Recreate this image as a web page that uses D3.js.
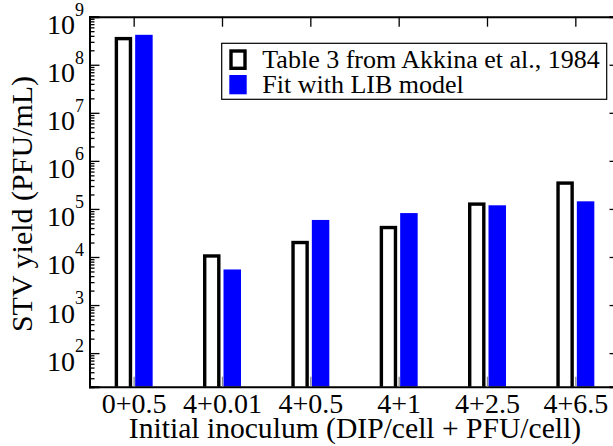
<!DOCTYPE html>
<html>
<head>
<meta charset="utf-8">
<script src="https://cdn.jsdelivr.net/npm/d3@7"></script>
<style>
  body { margin: 0; background: #fff; }
  svg { display: block; }
  svg text { font-family: "Liberation Serif", "Times New Roman", Times, serif; }
</style>
</head>
<body>
<svg id="chart"></svg>
<script>
// data
const categories = ["0+0.5", "4+0.01", "4+0.5", "4+1", "4+2.5", "4+6.5"];
const tableValues = [3.5e8, 1.05e4, 2.0e4, 4.1e4, 1.26e5, 3.45e5];   // Table 3 from Akkina et al., 1984
const fitValues = [4.2e8, 5.5e3, 5.9e4, 8.2e4, 1.19e5, 1.44e5];      // Fit with LIB model
const decadeTicks = [1e2, 1e3, 1e4, 1e5, 1e6, 1e7, 1e8, 1e9];
const seriesNames = ["Table 3 from Akkina et al., 1984", "Fit with LIB model"];

const config = {
  width: 613,
  height: 446,
  margin: { top: 16.7, left: 89.5, right: -6.5, bottom: 59.3 }
};

const width = config.width - config.margin.left - config.margin.right;
const height = config.height - config.margin.top - config.margin.bottom;

const svg = d3.select('#chart')
    .attr('width', config.width)
    .attr('height', config.height);

// keep bars inside the plot frame
svg.append('defs').append('clipPath')
    .attr('id', 'plot-clip')
  .append('rect')
    .attr('x', 0).attr('y', 0)
    .attr('width', width).attr('height', height);

const chart = svg.append('g')
    .attr('transform', `translate(${config.margin.left},${config.margin.top})`);

// scales
const xScale = d3.scaleLinear()
    .domain([0.5, 6.5])
    .range([0, width]);

const yScale = d3.scaleLog()
    .domain([20, 1e9])
    .range([height, 0]);

const catPos = categories.map((d, i) => i + 1);
const barW = 0.198;
const barOff = 0.116;

// minor ticks 2..9 per decade
const minorTicks = [];
for (let e = 1; e <= 8; e++) {
  for (let m = 2; m <= 9; m++) {
    const v = m * Math.pow(10, e);
    if (v >= 20 && v <= 1e9) minorTicks.push(v);
  }
}

const bars = chart.append('g').attr('clip-path', 'url(#plot-clip)');

// bars: fit (blue)
bars.append('g').selectAll('rect')
    .data(fitValues)
    .join('rect')
    .attr('x', (d, i) => xScale(catPos[i] + barOff - barW / 2))
    .attr('width', xScale(barW) - xScale(0))
    .attr('y', d => yScale(d))
    .attr('height', d => height - yScale(d))
    .attr('fill', '#0000ff');

// bars: table (white with black outline)
const sw = 3.4;
bars.append('g').selectAll('rect')
    .data(tableValues)
    .join('rect')
    .attr('x', (d, i) => xScale(catPos[i] - barOff - barW / 2) + sw / 2)
    .attr('width', xScale(barW) - xScale(0) - sw)
    .attr('y', d => yScale(d))
    .attr('height', d => height - yScale(d) + 4)
    .attr('fill', '#fff')
    .attr('stroke', '#000')
    .attr('stroke-width', sw);

// axes
const yAxisMinor = d3.axisLeft(yScale).tickValues(minorTicks).tickSize(-5).tickFormat('');
const yAxis = d3.axisLeft(yScale).tickValues(decadeTicks).tickSize(-10).tickFormat('');
const yAxisRight = d3.axisRight(yScale).tickValues(decadeTicks).tickSize(-10).tickFormat('');
const xAxisTop = d3.axisTop(xScale).tickValues(catPos).tickSize(-10).tickFormat('');
const xAxisBottom = d3.axisBottom(xScale).tickValues(catPos).tickSize(-10)
    .tickFormat((d, i) => categories[i]);

chart.append('g').call(yAxisMinor);
const yAxisG = chart.append('g').call(yAxis);
chart.append('g').attr('transform', `translate(${width},0)`).call(yAxisRight);
chart.append('g').call(xAxisTop);
const xAxisG = chart.append('g').attr('transform', `translate(0,${height})`).call(xAxisBottom);

chart.selectAll('.domain').attr('stroke-width', 2).attr('stroke', '#000');
chart.selectAll('.tick line').attr('stroke', '#000').attr('stroke-width', 1.3);
xAxisG.selectAll('.tick line').attr('stroke', '#888').attr('stroke-width', 1.3);

// y tick labels as 10^n
yAxisG.selectAll('.tick').each(function(d) {
  const t = d3.select(this).select('text')
      .text(null)
      .attr('x', -5.5)
      .attr('dy', null)
      .attr('y', 17)
      .attr('fill', '#000')
      .attr('font-size', 28)
      .attr('font-family', '"Liberation Serif", serif')
      .attr('text-anchor', 'end');
  t.append('tspan').text('10');
  t.append('tspan').attr('dy', -18.5).attr('font-size', 18).text(Math.round(Math.log10(d)));
});

xAxisG.selectAll('.tick text')
    .attr('y', 26.6)
    .attr('dy', null)
    .attr('fill', '#000')
    .attr('font-size', 28)
    .attr('font-family', '"Liberation Serif", serif');

// axis titles
svg.append('text')
    .attr('x', 355)
    .attr('y', 437.5)
    .attr('text-anchor', 'middle')
    .attr('font-size', 29.6)
    .text('Initial inoculum (DIP/cell + PFU/cell)');

svg.append('text')
    .attr('transform', `translate(32,204) rotate(-90)`)
    .attr('text-anchor', 'middle')
    .attr('font-size', 30)
    .text('STV yield (PFU/mL)');

// legend
const legend = svg.append('g');
legend.append('rect')
    .attr('x', 221.7).attr('y', 43.3)
    .attr('width', 385).attr('height', 56)
    .attr('fill', '#fff').attr('stroke', '#000').attr('stroke-width', 1.2);
legend.append('rect')
    .attr('x', 229.3 + 1.7).attr('y', 49.3 + 1.7)
    .attr('width', 17.4 - 3.4).attr('height', 20.7 - 3.4)
    .attr('fill', '#fff').attr('stroke', '#000').attr('stroke-width', 3.4);
legend.append('rect')
    .attr('x', 229.3).attr('y', 75)
    .attr('width', 17.4).attr('height', 19.3)
    .attr('fill', '#0000ff');
legend.selectAll('text.lg')
    .data(seriesNames)
    .join('text')
    .attr('class', 'lg')
    .attr('x', 262.3)
    .attr('y', (d, i) => 68.3 + i * 25)
    .attr('font-size', 26)
    .text(d => d);
</script>
</body>
</html>
